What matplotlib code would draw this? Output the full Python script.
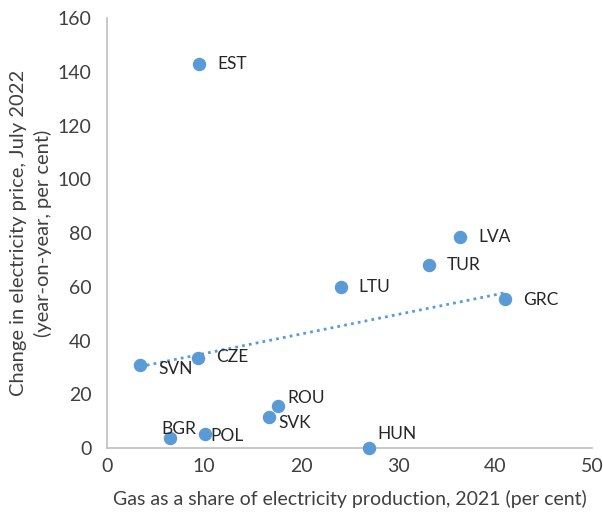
import numpy as np
import matplotlib
matplotlib.use("Agg")
import matplotlib.pyplot as plt

plt.rcParams['font.family'] = ['Lato', 'DejaVu Sans']

# gas share of electricity production 2021 (%), price change July 2022 (% y/y)
countries = ["EST", "LVA", "TUR", "LTU", "GRC", "CZE", "SVN", "ROU", "SVK", "BGR", "POL", "HUN"]
gas_share = [9.5, 36.4, 33.2, 24.1, 41.0, 9.4, 3.4, 17.6, 16.7, 6.5, 10.1, 27.0]
price_change = [142.9, 78.6, 68.0, 59.8, 55.6, 33.4, 30.9, 15.6, 11.7, 3.6, 5.1, 0.0]

# label offsets in points (dx, dy)
label_offsets = {
    "EST": (13, 0), "LVA": (13, 0), "TUR": (13, 0), "LTU": (13, 0), "GRC": (13, -1),
    "CZE": (13, 1), "SVN": (13, -3), "ROU": (7, 6), "SVK": (7, -5), "BGR": (-6, 7),
    "POL": (4, -1), "HUN": (6, 10),
}

blue = "#5B9BD5"
grey = "#BFBFBF"
text_col = "#404040"

fig = plt.figure(figsize=(6.03, 5.17), dpi=100)
ax = fig.add_axes([0.1774, 0.1335, 0.8044, 0.8315])

ax.scatter(gas_share, price_change, s=75, color=blue, zorder=3, clip_on=False)

# linear trendline over the data range
x = np.array(gas_share)
y = np.array(price_change)
slope, intercept = np.polyfit(x, y, 1)
xs = np.array([x.min(), x.max()])
ax.plot(xs, slope * xs + intercept, linestyle=(0, (1, 1.5)), color=blue, linewidth=2, zorder=2)

for c, gx, py in zip(countries, gas_share, price_change):
    dx, dy = label_offsets[c]
    ax.annotate(c, (gx, py), xytext=(dx, dy), textcoords="offset points",
                ha="left", va="center", fontsize=12.5, color="#262626")

ax.set_xlim(0, 50)
ax.set_ylim(0, 160)
ax.set_xticks(range(0, 51, 10))
ax.set_yticks(range(0, 161, 20))
ax.tick_params(axis="y", length=0, labelsize=14, colors=text_col, pad=11)
ax.tick_params(axis="x", length=0, labelsize=14, colors=text_col, pad=7)

for side in ["top", "right"]:
    ax.spines[side].set_visible(False)
for side in ["left", "bottom"]:
    ax.spines[side].set_color(grey)
    ax.spines[side].set_linewidth(1.2)

ax.set_xlabel("Gas as a share of electricity production, 2021 (per cent)",
              fontsize=14, color=text_col, labelpad=11)
ax.set_ylabel("Change in electricity price, July 2022\n(year-on-year, per cent)",
              fontsize=14.5, color=text_col, labelpad=4, linespacing=1.45)

fig.savefig("out.png", dpi=100)
